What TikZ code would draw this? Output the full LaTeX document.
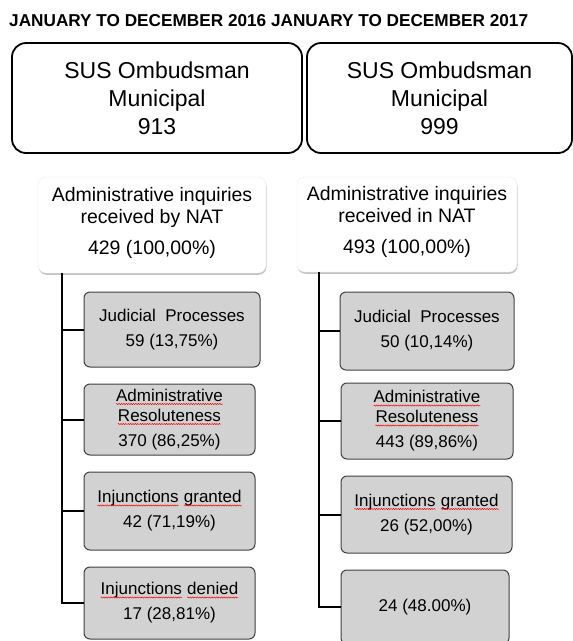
\documentclass[tikz,border=0pt]{standalone}
\usepackage{fontspec}
\setmainfont{Liberation Sans}
\usetikzlibrary{shadows,decorations.pathmorphing}
\newcommand\spell[1]{\tikz[baseline=(spw.base)]{\node[shape=rectangle, draw=none, fill=none, inner sep=0pt, outer sep=0pt, minimum width=0pt, minimum height=0pt, rounded corners=0pt] (spw) {#1};\draw[red, line width=0.5pt, rounded corners=0pt, decorate, decoration={zigzag, amplitude=0.6pt, segment length=2.4pt}] ([yshift=-2.6pt]spw.base west) -- ([yshift=-2.6pt]spw.base east);}}
\definecolor{boxgray}{HTML}{D2D2D2}
\definecolor{boxedge}{HTML}{404040}
\tikzset{
  susbox/.style={draw=black, line width=1.8pt, rounded corners=14pt, fill=white,
    minimum height=110pt, align=center, inner sep=0pt,
    font=\fontsize{23}{28}\selectfont},
  natbox/.style={draw=black!8, fill=white, rounded corners=8pt, inner sep=0pt,
    drop shadow={shadow xshift=0.6pt, shadow yshift=-1.8pt, fill=black!40, opacity=0.6}},
  nattext/.style={align=center, inner sep=0pt, font=\fontsize{19.5}{22}\selectfont},
  graybox/.style={draw=boxedge, line width=1pt, fill=boxgray, rounded corners=6pt,
    align=center, inner sep=0pt, font=\fontsize{17}{25}\selectfont},
  conn/.style={draw=black, line width=2pt},
}
\begin{document}
\begin{tikzpicture}[x=1pt,y=-1pt]
\useasboundingbox (0,0) rectangle (573,641);
% title
\node[anchor=base west, inner sep=0pt, font=\bfseries\fontsize{17.2}{20}\selectfont] (title) at (9,26)
  {JANUARY TO DECEMBER 2016 JANUARY TO DECEMBER 2017};
% top boxes
\node[susbox, minimum width=290pt] (susL) at (157,98) {SUS Ombudsman\\Municipal\\913};
\node[susbox, minimum width=265pt] (susR) at (439.5,98) {SUS Ombudsman\\Municipal\\999};
% NAT boxes
\node[natbox, minimum width=228pt, minimum height=96pt] (natL) at (152,225) {};
\node[nattext] (natLt) at (152,223) {Administrative inquiries\\received by NAT\\[9pt]429 (100,00\%)};
\node[natbox, minimum width=220pt, minimum height=95pt] (natR) at (407,224.5) {};
\node[nattext] (natRt) at (407,222) {Administrative inquiries\\received in NAT\\[9pt]493 (100,00\%)};
% left column
\node[graybox, minimum width=176pt, minimum height=75pt] (jL) at (172,329.5) {Judicial\ \ Processes\\59 (13,75\%)};
\node[graybox, minimum width=171pt, minimum height=71pt] (aL) at (169.5,419.5) {\spell{Administrative}\\[-5pt]\spell{Resoluteness}\\370 (86,25\%)};
\node[graybox, minimum width=171pt, minimum height=78pt] (gL) at (169.5,511) {\spell{Injunctions} \spell{granted}\\42 (71,19\%)};
\node[graybox, minimum width=171pt, minimum height=72pt] (dL) at (169.5,603) {\spell{Injunctions} \spell{denied}\\17 (28,81\%)};
% right column
\node[graybox, minimum width=174pt, minimum height=78pt] (jR) at (427,331) {Judicial\ \ Processes\\50 (10,14\%)};
\node[graybox, minimum width=172pt, minimum height=76pt] (aR) at (427,421) {\spell{Administrative}\\[-5pt]\spell{Resoluteness}\\443 (89,86\%)};
\node[graybox, minimum width=171pt, minimum height=77pt] (gR) at (426.5,514.5) {\spell{Injunctions} \spell{granted}\\26 (52,00\%)};
\node[graybox, minimum width=168pt, minimum height=74pt] (xR) at (425,607) {24 (48.00\%)};
% connectors
\coordinate (tL) at (62,273);
\coordinate (tR) at (319,272);
\draw[conn] (tL) |- (dL.west);
\draw[conn] (tL) |- (jL.west);
\draw[conn] (tL) |- (aL.west);
\draw[conn] (tL) |- (gL.west);
\draw[conn] (tR) |- (xR.west);
\draw[conn] (tR) |- (jR.west);
\draw[conn] (tR) |- (aR.west);
\draw[conn] (tR) |- (gR.west);
\end{tikzpicture}
\end{document}
